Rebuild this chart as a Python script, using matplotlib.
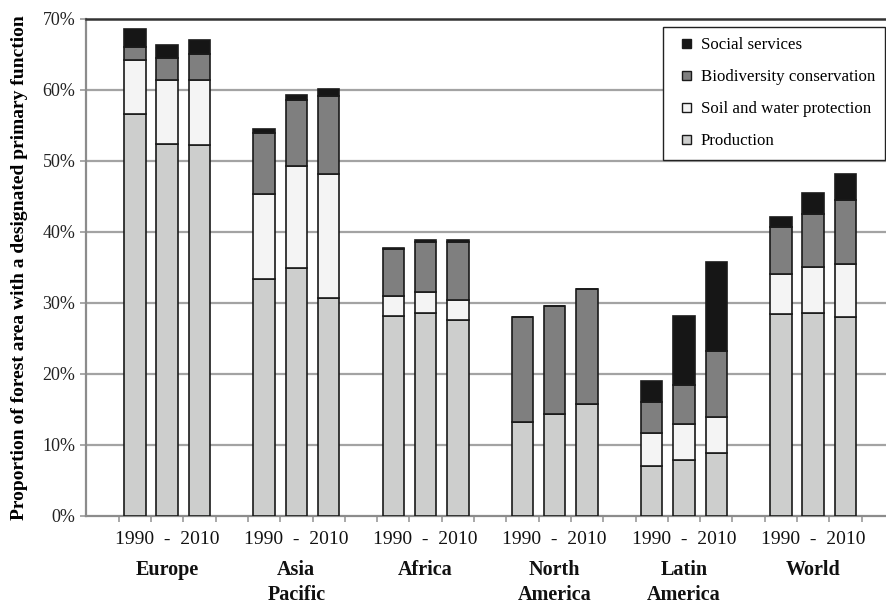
import matplotlib
matplotlib.use("Agg")
import matplotlib.pyplot as plt
from matplotlib.patches import Patch, Rectangle
from matplotlib.legend_handler import HandlerPatch
import numpy as np

regions = ["Europe", "Asia\nPacific", "Africa", "North\nAmerica", "Latin\nAmerica", "World"]
years = ["1990", "2000", "2010"]
year_label = "1990  -  2010"

# values in % (per region: 1990, 2000, 2010)
production = [56.5, 52.3, 52.2,
              33.4, 34.9, 30.7,
              28.2, 28.5, 27.6,
              13.2, 14.3, 15.8,
              7.0, 7.9, 8.8,
              28.4, 28.5, 28.0]
soil_water = [7.6, 9.1, 9.2,
              11.9, 14.4, 17.4,
              2.8, 3.0, 2.8,
              0.0, 0.0, 0.0,
              4.7, 5.0, 5.2,
              5.7, 6.6, 7.5]
biodiversity = [1.9, 3.0, 3.6,
                8.6, 9.3, 11.0,
                6.5, 7.1, 8.2,
                14.8, 15.2, 16.1,
                4.3, 5.6, 9.2,
                6.5, 7.4, 8.9]
social = [2.5, 1.9, 2.0,
          0.6, 0.7, 1.0,
          0.2, 0.2, 0.2,
          0.0, 0.0, 0.0,
          3.0, 9.6, 12.5,
          1.5, 2.9, 3.7]

series_names = ["Production", "Soil and water protection",
                "Biodiversity conservation", "Social services"]
series_vals = [production, soil_water, biodiversity, social]
colors = ["#cdcecd", "#f4f4f4", "#7f7f7f", "#161616"]

serif = ["Liberation Serif", "DejaVu Serif"]

fig = plt.figure(figsize=(8.87, 6.03), dpi=100)
W, H = 887, 603
ax_left, ax_bottom, ax_top = 86.4, 516.0, 18.5
ax_w, ax_h = W - ax_left, ax_bottom - ax_top
ax = fig.add_axes([ax_left / W, 1 - ax_bottom / H, ax_w / W, ax_h / H])

n_years = len(years)
x = np.array([g * (n_years + 1) + i for g in range(len(regions)) for i in range(n_years)], dtype=float)
bottom = np.zeros(len(x))
for name, vals, col in zip(series_names, series_vals, colors):
    v = np.array(vals)
    ax.bar(x, v, width=0.665, bottom=bottom, color=col, edgecolor="#1a1a1a",
           linewidth=1.2, zorder=3)
    bottom += v

ax.set_ylim(0, 70)
ax.set_xlim(-1.5, -1.5 + ax_w / 32.3)

ax.set_yticks(np.arange(0, 71, 10))
ax.set_yticklabels([f"{t}%" for t in range(0, 71, 10)], fontfamily=serif, fontsize=13, color="#222222")
for t in range(10, 70, 10):
    ax.axhline(t, color="#a3a3a3", linewidth=1.6, zorder=1)

ax.set_xticks(np.arange(-0.5, x.max() + 1, 1.0))
ax.set_xticklabels([])
ax.tick_params(axis="x", length=4, width=1.2, color="#999999", direction="out")
ax.tick_params(axis="y", length=4, width=1.2, color="#999999", direction="out", pad=4)

for s in ["left", "bottom"]:
    ax.spines[s].set_color("#8c8c8c")
    ax.spines[s].set_linewidth(1.6)
ax.spines["right"].set_visible(False)
ax.spines["top"].set_color("#333333")
ax.spines["top"].set_linewidth(1.8)

ax.set_ylabel("Proportion of forest area with a designated primary function",
              fontfamily=serif, fontweight="bold", fontsize=14.0)
ax.yaxis.set_label_coords((28 - ax_left) / ax_w, 0.5)

trans = ax.get_xaxis_transform()
for g, name in enumerate(regions):
    xm = g * (n_years + 1) + (n_years - 1) / 2
    ax.text(xm, -(539 - ax_bottom) / ax_h, year_label, transform=trans,
            ha="center", va="center", fontfamily=serif, fontsize=14, color="#111111")
    ax.text(xm, -(560 - ax_bottom) / ax_h, name, transform=trans,
            ha="center", va="top", fontfamily=serif, fontsize=14.5, fontweight="bold",
            linespacing=1.3, color="#111111")


def square_patch(legend, orig_handle, xdescent, ydescent, width, height, fontsize):
    s = height
    return Rectangle((-xdescent + width - s, -ydescent), s, s)


handles = [Patch(facecolor=c, edgecolor="#1a1a1a", linewidth=1.0, label=n)
           for n, c in zip(series_names, colors)][::-1]
leg = ax.legend(handles=handles, loc="upper right",
                bbox_to_anchor=(885.5 / W, 1 - 27 / H), bbox_transform=fig.transFigure,
                prop={"family": serif, "size": 12.2}, frameon=True, fancybox=False,
                edgecolor="#222222", framealpha=1, borderaxespad=0,
                handlelength=1.05, handleheight=0.42, handletextpad=0.6,
                labelspacing=0.95, borderpad=0.6,
                handler_map={Patch: HandlerPatch(patch_func=square_patch)})
leg.get_frame().set_linewidth(1.0)
leg.set_zorder(5)

fig.savefig("out.png", dpi=100)
